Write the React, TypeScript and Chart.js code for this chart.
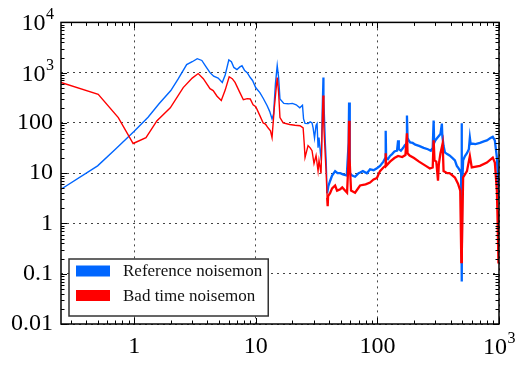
import React, { useEffect, useRef } from 'react';
import { Chart, registerables } from 'chart.js';

Chart.register(...registerables);

const seriesNames = ['Reference noisemon', 'Bad time noisemon'];
const seriesColors = ['rgb(0,102,255)', 'rgb(255,0,0)'];

const blueX = [
  0.25, 0.5, 0.7, 1.0, 1.3, 1.6, 2.0, 2.3, 2.7, 3.0, 3.3, 3.6, 3.9, 4.2, 4.5, 4.9, 5.3, 5.6, 6.0, 6.3,
  6.6, 7.0, 7.4, 7.7, 8.1, 8.5, 9.0, 9.4, 10, 10.8, 11.5, 12.4, 13.0, 13.6, 14.0, 14.5, 15.0, 15.4, 15.8, 17.0,
  18.5, 20.0, 21.5, 23.0, 24.2, 24.7, 25.4, 26.9, 28.0, 29.0, 29.6, 30.4, 31.3, 31.9, 32.5, 33.1, 34.0, 34.6, 35.2, 35.7,
  36.3, 37.3, 37.9, 38.6, 39.5, 40.8, 42.4, 44.9, 47, 49.5, 52, 56, 58.0, 58.5, 59.0, 59.5, 62, 65.5, 70, 72,
  76, 82, 87, 93, 99, 105, 112, 116, 117, 118, 122, 127, 132, 138, 145, 148, 150, 156, 163, 168,
  172, 175, 177, 181, 186, 195, 205, 220, 240, 260, 275, 285, 290, 293, 300, 310, 320, 330, 339, 342,
  350, 359, 375, 392, 415, 434, 450, 460, 480, 488, 493, 495, 497, 507, 525, 545, 565, 576, 585, 597,
  640, 697, 750, 795, 850, 889, 924, 961, 985, 1000,
];
const blueY = [
  4.8, 14, 30, 68, 130, 240, 440, 750, 1450, 1650, 1900, 1750, 1300, 1000, 850, 780, 640, 900, 1800, 1650,
  1270, 1150, 1300, 1370, 1100, 1000, 800, 700, 500, 400, 310, 220, 170, 120, 150, 600, 1380, 800, 300, 245,
  240, 245, 230, 200, 225, 120, 98, 97, 105, 100, 80, 50, 90, 97, 32, 51, 25, 18, 200, 800,
  280, 40, 18, 4, 5.5, 7, 9, 11, 10, 10, 9.5, 9, 40, 255, 40, 10, 9, 8.5, 10, 10.3,
  11, 10, 12, 11.5, 12.5, 14, 17, 20, 70, 20, 19, 22, 24, 27, 28, 45, 30, 28, 32, 36,
  38, 140, 50, 45, 41, 40, 37, 35, 32, 30, 28, 32, 112, 40, 45, 50, 55, 60, 97, 55,
  35, 26, 24, 22.5, 20, 18, 14, 13, 11, 10, 98, 0.07, 5, 18, 22, 25, 30, 51, 38, 39,
  38, 40, 43, 45, 50, 53, 45, 20.5, 6, 2.9,
];

const redX = [
  0.25, 0.506, 0.74, 0.98, 1.25, 1.54, 1.98, 2.53, 3.0, 3.36, 3.7, 4.2, 4.46, 4.8, 5.2, 5.6, 6.04, 6.4, 6.75, 7.4,
  7.9, 8.5, 9.0, 9.5, 10, 10.8, 11.5, 12.0, 12.6, 13.2, 13.6, 14.2, 15.0, 15.4, 15.8, 16.8, 19, 21, 23.1, 24.5,
  25.0, 25.4, 26.9, 28, 29.0, 30.1, 31.3, 32.5, 33.1, 34.4, 35.2, 35.7, 36.3, 37.9, 38.6, 39.0, 39.3, 40.8, 42.4, 44.9,
  46.6, 49.5, 51.4, 56.3, 58.0, 58.5, 59.0, 60.7, 65.5, 72, 80, 87, 93, 99, 105, 112, 116, 117, 118, 127,
  138, 148, 160, 170, 175, 177, 184, 200, 220, 250, 270, 285, 290, 295, 305, 315, 320, 330, 338, 344,
  350, 375, 392, 434, 460, 480, 490, 495, 507, 545, 576, 597, 697, 795, 889, 924, 961, 975, 990, 1000,
];
const redY = [
  640, 370, 128, 39, 51, 111, 200, 505, 780, 960, 760, 480, 440, 340, 280, 450, 830, 760, 640, 400,
  290, 305, 300, 230, 210, 140, 100, 95, 80, 70, 51, 200, 800, 400, 128, 100, 93, 90, 88, 80,
  40, 20.5, 35.5, 32, 28, 15.6, 22.5, 11, 18, 9.9, 100, 350, 80, 9.9, 3.3, 2.2, 3.5, 4, 5, 5.7,
  4.5, 4.8, 5.2, 4.1, 20, 110, 20, 4.5, 4.1, 5.7, 6.0, 6.5, 7.5, 8, 11, 13, 14, 25, 14, 17,
  20, 22, 21, 23, 62, 25, 22.5, 20, 17, 14, 12.4, 13, 45, 18, 17, 7.1, 15, 25, 32, 39,
  11, 10, 10, 8.2, 6.2, 4.5, 0.17, 0.3, 8.2, 11, 22, 13, 14, 16.3, 20.5, 16.3, 4.5, 1, 0.16, 1.8,
];

const xMin = 0.25;
const xMax = 1000;
const yMin = 0.01;
const yMax = 10000;
const xTickValues = [1, 10, 100, 1000];
const xTickLabels = ['1', '10', '100', '10^3'];
const yTickValues = [0.01, 0.1, 1, 10, 100, 1000, 10000];
const yTickLabels = ['0.01', '0.1', '1', '10', '100', '10^3', '10^4'];

const SERIF = "'Liberation Serif', 'DejaVu Serif', serif";
const TICK_SIZE = 24;
const SUP_SIZE = 16;

function toPoints(xs: number[], ys: number[]) {
  return xs.map((x, i) => ({ x, y: ys[i] }));
}

function plainLabel(values: number[], labels: string[]) {
  return (value: any) => {
    const i = values.indexOf(Number(value));
    if (i < 0) return '';
    return labels[i].includes('^') ? '' : labels[i];
  };
}

function drawLogTicks(ctx: CanvasRenderingContext2D, scale: any, horizontal: boolean, area: any) {
  const min = scale.min;
  const max = scale.max;
  const n0 = Math.floor(Math.log10(min));
  const n1 = Math.ceil(Math.log10(max));
  for (let n = n0; n <= n1; n++) {
    for (let m = 1; m <= 9; m++) {
      const v = m * Math.pow(10, n);
      if (v < min * 0.999 || v > max * 1.001) continue;
      const p = Math.round(scale.getPixelForValue(v)) + 0.5;
      const len = m === 1 ? 6 : 3.5;
      ctx.beginPath();
      if (horizontal) {
        ctx.moveTo(p, area.bottom);
        ctx.lineTo(p, area.bottom - len);
        ctx.moveTo(p, area.top);
        ctx.lineTo(p, area.top + len);
      } else {
        ctx.moveTo(area.left, p);
        ctx.lineTo(area.left + len, p);
        ctx.moveTo(area.right, p);
        ctx.lineTo(area.right - len, p);
      }
      ctx.stroke();
    }
  }
}

const framePlugin = {
  id: 'frameTicks',
  afterDatasetsDraw(chart: any) {
    const ctx = chart.ctx as CanvasRenderingContext2D;
    const area = chart.chartArea;
    ctx.save();
    ctx.strokeStyle = '#000';
    ctx.lineWidth = 1;
    drawLogTicks(ctx, chart.scales.x, true, area);
    drawLogTicks(ctx, chart.scales.y, false, area);
    ctx.lineWidth = 1.5;
    ctx.strokeRect(area.left, area.top, area.right - area.left, area.bottom - area.top);
    ctx.restore();
  },
};

const powerLabelPlugin = {
  id: 'powerLabels',
  afterDraw(chart: any) {
    const ctx = chart.ctx as CanvasRenderingContext2D;
    const area = chart.chartArea;
    ctx.save();
    ctx.fillStyle = '#000';
    ctx.textAlign = 'left';
    ctx.textBaseline = 'alphabetic';
    const measure = (base: string, exp: string) => {
      ctx.font = `${TICK_SIZE}px ${SERIF}`;
      const wb = ctx.measureText(base).width;
      ctx.font = `${SUP_SIZE}px ${SERIF}`;
      const ws = ctx.measureText(exp).width;
      return { wb, ws };
    };
    const put = (base: string, exp: string, x: number, baseY: number, wb: number) => {
      ctx.font = `${TICK_SIZE}px ${SERIF}`;
      ctx.fillText(base, x, baseY);
      ctx.font = `${SUP_SIZE}px ${SERIF}`;
      ctx.fillText(exp, x + wb + 0.5, baseY - 11);
    };
    yTickValues.forEach((v, i) => {
      const lab = yTickLabels[i];
      if (!lab.includes('^')) return;
      const [base, exp] = lab.split('^');
      const { wb, ws } = measure(base, exp);
      const py = chart.scales.y.getPixelForValue(v);
      const right = area.left - 7;
      put(base, exp, right - ws - wb - 0.5, py + 8, wb);
    });
    xTickValues.forEach((v, i) => {
      const lab = xTickLabels[i];
      if (!lab.includes('^')) return;
      const [base, exp] = lab.split('^');
      const { wb, ws } = measure(base, exp);
      const px = chart.scales.x.getPixelForValue(v);
      put(base, exp, px - (wb + ws) / 2, area.bottom + 30, wb);
    });
    ctx.restore();
  },
};

const legendPlugin = {
  id: 'insideLegend',
  afterDraw(chart: any) {
    const ctx = chart.ctx as CanvasRenderingContext2D;
    const area = chart.chartArea;
    ctx.save();
    ctx.font = `17px ${SERIF}`;
    const textW = Math.max(...seriesNames.map((s) => ctx.measureText(s).width));
    const rowH = 24.5;
    const boxH = 8 + rowH * seriesNames.length;
    const boxLeft = area.left + 8;
    const boxBottom = area.bottom - 8;
    const boxTop = boxBottom - boxH;
    const boxW = 54 + textW + 6;
    ctx.fillStyle = '#fff';
    ctx.fillRect(boxLeft, boxTop, boxW, boxH);
    ctx.strokeStyle = '#333';
    ctx.lineWidth = 1.5;
    ctx.strokeRect(boxLeft, boxTop, boxW, boxH);
    seriesNames.forEach((name, i) => {
      const cy = boxTop + 12 + i * rowH;
      ctx.fillStyle = seriesColors[i];
      ctx.fillRect(boxLeft + 7, cy - 5.5, 34, 11);
      ctx.fillStyle = '#111';
      ctx.textAlign = 'left';
      ctx.textBaseline = 'middle';
      ctx.fillText(name, boxLeft + 54, cy + 1);
    });
    ctx.restore();
  },
};

export default function App() {
  const canvasRef = useRef<HTMLCanvasElement | null>(null);

  useEffect(() => {
    const canvas = canvasRef.current;
    if (!canvas) return;
    const thick = (ctx: any) => (ctx.p0.parsed.x >= 38 ? 2.3 : 1.4);
    const chart = new Chart(canvas, {
      type: 'line',
      data: {
        datasets: [
          {
            label: seriesNames[0],
            data: toPoints(blueX, blueY),
            borderColor: seriesColors[0],
            backgroundColor: seriesColors[0],
            borderWidth: 1.4,
            pointRadius: 0,
            tension: 0,
            order: 1,
            segment: { borderWidth: thick },
          } as any,
          {
            label: seriesNames[1],
            data: toPoints(redX, redY),
            borderColor: seriesColors[1],
            backgroundColor: seriesColors[1],
            borderWidth: 1.4,
            pointRadius: 0,
            tension: 0,
            order: 0,
            segment: { borderWidth: thick },
          } as any,
        ],
      },
      options: {
        responsive: false,
        animation: false,
        devicePixelRatio: 1,
        layout: { padding: { top: 22, right: 26, left: 0, bottom: 0 } },
        plugins: { legend: { display: false }, tooltip: { enabled: false } },
        scales: {
          x: {
            type: 'logarithmic',
            min: xMin,
            max: xMax,
            afterBuildTicks: (axis: any) => {
              axis.ticks = xTickValues.map((v) => ({ value: v }));
            },
            afterFit: (axis: any) => {
              axis.height = 44;
            },
            ticks: {
              autoSkip: false,
              maxRotation: 0,
              padding: 8,
              color: '#000',
              font: { family: SERIF, size: TICK_SIZE },
              callback: plainLabel(xTickValues, xTickLabels),
            },
            grid: { color: '#444', lineWidth: 1, drawTicks: false },
            border: { display: false, dash: [2, 4] },
          },
          y: {
            type: 'logarithmic',
            min: yMin,
            max: yMax,
            afterBuildTicks: (axis: any) => {
              axis.ticks = yTickValues.map((v) => ({ value: v }));
            },
            afterFit: (axis: any) => {
              axis.width = 61;
            },
            ticks: {
              autoSkip: false,
              padding: 8,
              color: '#000',
              font: { family: SERIF, size: TICK_SIZE },
              callback: plainLabel(yTickValues, yTickLabels),
            },
            grid: { color: '#444', lineWidth: 1, drawTicks: false },
            border: { display: false, dash: [2, 4] },
          },
        },
      } as any,
      plugins: [framePlugin, powerLabelPlugin, legendPlugin],
    });
    return () => chart.destroy();
  }, []);

  return (
    <div style={{ position: 'absolute', left: 0, top: 0, width: 525, height: 368, background: '#fff' }}>
      <canvas ref={canvasRef} width={525} height={368} style={{ display: 'block' }} />
    </div>
  );
}
